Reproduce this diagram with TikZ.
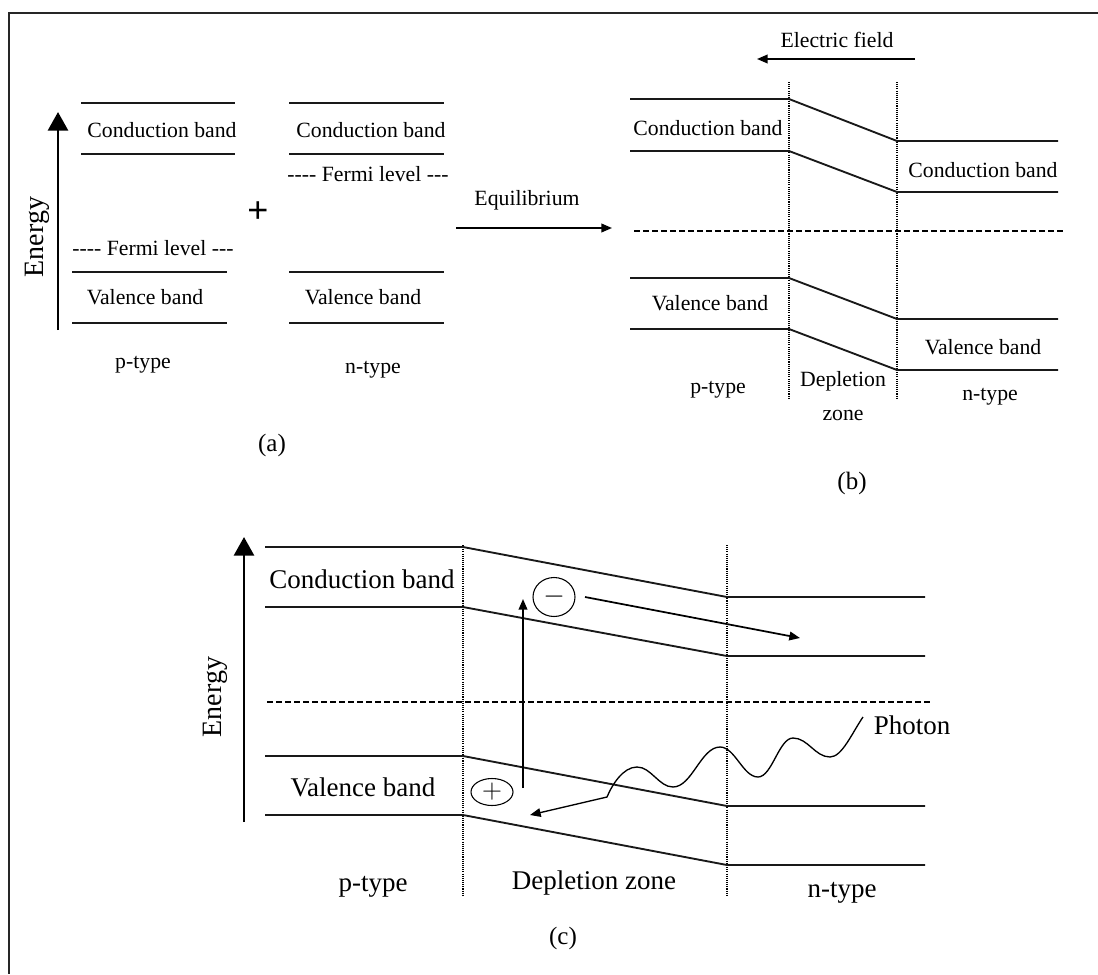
\documentclass[tikz,border=0pt]{standalone}
\usepackage{fontspec}
\setmainfont{Liberation Serif}
\newfontfamily\plusfont{Liberation Sans}
\usetikzlibrary{arrows.meta,shapes.geometric}
\begin{document}
\begin{tikzpicture}[x=0.75pt,y=-0.75pt,
  band/.style={line width=1.4pt, draw=black!90, line join=miter},
  vdot/.style={line width=0.8pt, dash pattern=on 0.8pt off 0.8pt},
  fermi/.style={line width=1.2pt, dash pattern=on 4.5pt off 2.25pt},
  tA/.style={font=\fontsize{16.3}{18}\selectfont, inner sep=0pt},
  tC/.style={font=\fontsize{20.25}{22}\selectfont, inner sep=0pt},
  lab/.style={font=\fontsize{18.75}{20}\selectfont, inner sep=0pt},
  entext/.style={font=\fontsize{21}{22}\selectfont, inner sep=0pt, rotate=90},
  bigarrow/.style={line width=2.2pt, -{Triangle[length=14pt,width=15pt]}},
  smallarrow/.style={line width=1.3pt, -{Triangle[length=8pt,width=6.5pt]}},
  carrier/.style={ellipse, draw, line width=0.8pt, inner sep=0pt, font=\fontsize{20}{22}\selectfont}
]
\useasboundingbox (0,0) rectangle (1098,974);
\fill[white] (0,0) rectangle (1098,974);
% border
\draw[line width=1.5pt, draw=black!85] (1098,13) -- (8.5,13) -- (8.5,974);

% ================= Panel (a) =================
\coordinate (eA0) at (58,330);
\coordinate (eA1) at (58,112);
\draw[bigarrow] (eA0) -- (eA1);
\node[entext] (energyA) at (37,237) {Energy};

% p-type bands
\draw[band] (81,103) -- (235,103);
\draw[band] (81,154) -- (235,154);
\draw[band] (72,272) -- (227,272);
\draw[band] (72,323) -- (227,323);
\node[tA] (pcbA) at (162,130) {Conduction band};
\node[tA] (pflA) at (153,248) {-{}-{}-{}- Fermi level -{}-{}-};
\node[tA] (pvbA) at (145,297) {Valence band};
\node[tA] (ptypeA) at (143,365) {p-type};

\node[inner sep=0pt, font=\plusfont\fontsize{27}{28}\selectfont] (plus) at (258,212) {+};

% n-type bands
\draw[band] (289,103) -- (444,103);
\draw[band] (289,154) -- (444,154);
\draw[band] (289,272) -- (444,272);
\draw[band] (289,323) -- (444,323);
\node[tA] (ncbA) at (371,130) {Conduction band};
\node[tA] (nflA) at (368,174) {-{}-{}-{}- Fermi level -{}-{}-};
\node[tA] (nvbA) at (363,297) {Valence band};
\node[tA] (ntypeA) at (373,370) {n-type};

\node[lab] (labA) at (272,445) {(a)};

% Equilibrium arrow
\node[tA] (equil) at (527,200) {Equilibrium};
\coordinate (eq0) at (456,228);
\coordinate (eq1) at (612,228);
\draw[smallarrow] (eq0) -- (eq1);

% ================= Panel (b) =================
\node[tA] (efield) at (837,40) {Electric field};
\coordinate (ef0) at (915,59);
\coordinate (ef1) at (757,59);
\draw[smallarrow] (ef0) -- (ef1);

\draw[vdot] (789,82) -- (789,398);
\draw[vdot] (897,82) -- (897,398);

\draw[band] (630,99) -- (789,99) -- (897,141) -- (1058,141);
\draw[band] (630,151) -- (789,151) -- (897,192) -- (1058,192);
\draw[band] (630,278) -- (789,278) -- (897,319) -- (1058,319);
\draw[band] (630,329) -- (789,329) -- (897,370) -- (1058,370);
\draw[fermi] (634,231) -- (1065,231);

\node[tA] (pcbB) at (708,128) {Conduction band};
\node[tA] (ncbB) at (983,170) {Conduction band};
\node[tA] (pvbB) at (710,303) {Valence band};
\node[tA] (nvbB) at (983,347) {Valence band};
\node[tA] (ptypeB) at (718,390) {p-type};
\node[tA, align=center, font=\fontsize{16.3}{26}\selectfont] (deplB) at (843,396) {Depletion\\zone};
\node[tA] (ntypeB) at (990,397) {n-type};
\node[lab] (labB) at (852,483) {(b)};

% ================= Panel (c) =================
\coordinate (eC0) at (244,822);
\coordinate (eC1) at (244,537);
\draw[bigarrow] (eC0) -- (eC1);
\node[entext] (energyC) at (215,697) {Energy};

\draw[vdot] (463,545) -- (463,895);
\draw[vdot] (727,545) -- (727,895);

\draw[band] (265,547) -- (463,547) -- (727,597) -- (925,597);
\draw[band] (265,607) -- (463,607) -- (727,656) -- (925,656);
\draw[band] (265,756) -- (463,756) -- (727,806) -- (925,806);
\draw[band] (265,815) -- (463,815) -- (727,865) -- (925,865);
\draw[fermi] (267,702) -- (932,702);

\node[tC] (pcbC) at (362,579) {Conduction band};
\node[tC] (pvbC) at (363,787) {Valence band};
\node[tC] (ptypeC) at (373,887) {p-type};
\node[tC] (deplC) at (594,883) {Depletion zone};
\node[tC] (ntypeC) at (842,893) {n-type};
\node[tC] (photon) at (912,725) {Photon};
\node[lab] (labC) at (563,938) {(c)};

% carriers
\node[carrier, minimum width=42pt*0.75, minimum height=39pt*0.75] (electron) at (554,597) {$-$};
\node[carrier, minimum width=42pt*0.75, minimum height=27pt*0.75] (hole) at (492,792) {$+$};

% excitation arrow
\coordinate (ex0) at (523,788);
\coordinate (ex1) at (523,599);
\draw[smallarrow] (ex0) -- (ex1);

% electron drift arrow
\coordinate (ed0) at (585,597);
\coordinate (ed1) at (800,638);
\draw[smallarrow] (ed0) -- (ed1);

% photon wave
\coordinate (ph0) at (863,717);
\coordinate (ph1) at (530,815);
\draw[line width=1pt, -{Triangle[length=8pt,width=6.5pt]}]
  (ph0) .. controls (852,733) and (842,757) .. (830,757)
  .. controls (815,757) and (808,738) .. (793,738)
  .. controls (779,738) and (772,777) .. (758,777)
  .. controls (743,777) and (735,747) .. (720,747)
  .. controls (701,747) and (692,787) .. (673,787)
  .. controls (659,787) and (651,767) .. (637,767)
  .. controls (623,767) and (612,785) .. (607,797)
  -- (ph1);
\end{tikzpicture}
\end{document}
